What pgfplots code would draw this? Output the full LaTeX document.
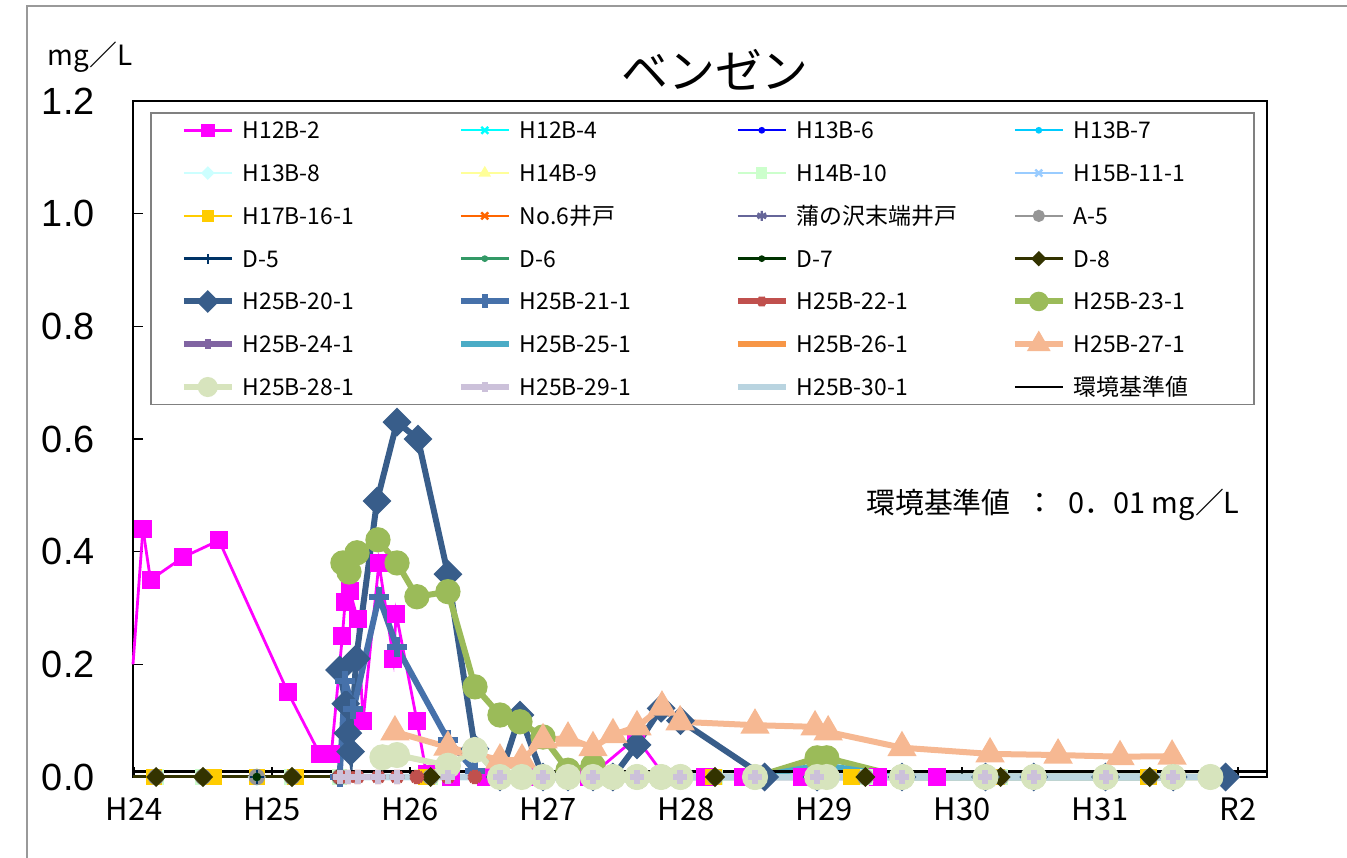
\documentclass[border=0pt]{standalone}
\usepackage{pgfplots}
\pgfplotsset{compat=1.18}
\usepackage{fontspec}
\setmainfont{Noto Sans CJK JP}
\newfontfamily\arialf{Liberation Sans}

\definecolor{cH12Btwo}{HTML}{FF00FF}
\definecolor{cH12Bfour}{HTML}{00FFFF}
\definecolor{cH13Bsix}{HTML}{0000FF}
\definecolor{cH13Bseven}{HTML}{00CCFF}
\definecolor{cH13Beight}{HTML}{CCFFFF}
\definecolor{cH14Bnine}{HTML}{FFFF99}
\definecolor{cH14Bten}{HTML}{CCFFCC}
\definecolor{cH15B}{HTML}{99CCFF}
\definecolor{cH17B}{HTML}{FFCC00}
\definecolor{cNosix}{HTML}{FF6600}
\definecolor{cKaba}{HTML}{666699}
\definecolor{cAfive}{HTML}{969696}
\definecolor{cDfive}{HTML}{003366}
\definecolor{cDsix}{HTML}{339966}
\definecolor{cDseven}{HTML}{003300}
\definecolor{cDeight}{HTML}{333300}
\definecolor{cBtwenty}{HTML}{385D8A}
\definecolor{cBtwentyone}{HTML}{4671AA}
\definecolor{cBtwentytwo}{HTML}{C0504D}
\definecolor{cBtwentythree}{HTML}{9BBB59}
\definecolor{cBtwentyfour}{HTML}{8064A2}
\definecolor{cBtwentyfive}{HTML}{4BACC6}
\definecolor{cBtwentysix}{HTML}{F79646}
\definecolor{cBtwentyseven}{HTML}{F6B892}
\definecolor{cBtwentyeight}{HTML}{D7E4BD}
\definecolor{cBtwentynine}{HTML}{CCC1DA}
\definecolor{cBthirty}{HTML}{B9D4E0}

% fixed-width legend cells
\newcommand\lgd[2][100bp]{\makebox[#1][l]{\rule[-4bp]{0pt}{14bp}#2}}

\begin{document}
\begin{tikzpicture}
\useasboundingbox (-66.5bp,-40.5bp) rectangle (607bp,388.5bp);
\draw[color=gray!80, line width=1bp] (-53bp,-40.5bp) -- (-53bp,385.5bp) -- (607bp,385.5bp);
\begin{axis}[
  at={(0,0)}, anchor=south west,
  scale only axis, width=567bp, height=338bp,
  xmin=-0.007, xmax=8.21, ymin=0, ymax=1.2,
  clip=false,
  axis line style={line width=1.4bp},
  tick align=inside, tick pos=left,
  major tick length=5bp,
  tick style={black, line width=0.6bp},
  xtick={0,1,2,3,4,5,6,7,8},
  xticklabels={H24,H25,H26,H27,H28,H29,H30,H31,R2},
  ytick={0,0.2,0.4,0.6,0.8,1.0,1.2},
  yticklabel style={/pgf/number format/.cd, fixed, fixed zerofill, precision=1, assume math mode=true, /tikz/.cd,
    font=\arialf\fontsize{19}{19}\selectfont, anchor=east, inner sep=0pt, xshift=-19bp},
  xticklabel style={font=\fontsize{15.5}{15.5}\selectfont, anchor=north, inner sep=0pt, yshift=-10bp},
  legend columns=4,
  legend cell align=left,
  legend style={at={(0.01499,0.98373)}, anchor=north west, draw=gray, line width=0.8bp,
    inner xsep=15bp, inner ysep=3bp, row sep=9.9bp,
    font=\fontsize{11.5}{11.5}\selectfont, nodes={inner sep=0pt},
    /tikz/every odd column/.append style={column sep=4bp},
    /tikz/every even column/.append style={column sep=7.5bp}},
  legend image code/.code={\draw[mark repeat=2,mark phase=2,#1,/tikz/every mark/.append style={scale=0.7}]
    plot coordinates {(0bp,0bp)(12bp,0bp)(24bp,0bp)};},
]
% H12B-2 (line entering from the left edge)
\addplot[forget plot, cH12Btwo, line width=1.4bp] coordinates {(-0.007,0.20)(0.065,0.44)};
\addplot[cH12Btwo, line width=1.4bp, mark=square*, mark size=3.8bp] coordinates {
  (0.065,0.44)(0.12,0.35)(0.355,0.39)(0.616,0.42)(1.116,0.15)(1.348,0.04)(1.43,0.04)
  (1.51,0.25)(1.53,0.31)(1.565,0.33)(1.62,0.28)(1.66,0.10)(1.775,0.38)(1.88,0.21)(1.90,0.29)
  (2.05,0.10)(2.12,0.005)(2.3,0)(2.55,0)(2.9,0)(3.3,0)(3.64,0.07)(3.85,0)(4.14,0)(4.41,0)
  (4.84,0)(5.39,0)(5.82,0)};
\addlegendentry{\lgd{H12B-2}}
\addplot[cH12Bfour, line width=1.2bp, mark=x, mark size=3.5bp] coordinates {
  (0.16,0)(0.5,0)(0.89,0)(1.145,0)(1.49,0)(2.15,0)(4.21,0)(5.3,0)(6.28,0)(7.36,0)};
\addlegendentry{\lgd{H12B-4}}
\addplot[cH13Bsix, line width=1.2bp, mark=*, mark size=1.5bp] coordinates {
  (0.16,0)(0.5,0)(0.89,0)(1.145,0)(1.49,0)(2.15,0)(4.21,0)(5.3,0)(6.28,0)(7.36,0)};
\addlegendentry{\lgd{H13B-6}}
\addplot[cH13Bseven, line width=1.2bp, mark=*, mark size=1.5bp] coordinates {
  (0.16,0)(0.5,0)(0.89,0)(1.145,0)(1.49,0)(2.15,0)(4.21,0)(5.3,0)(6.28,0)(7.36,0)};
\addlegendentry{\lgd[75bp]{H13B-7}}
\addplot[cH13Beight, line width=1.2bp, mark=square*, mark size=2.6bp, mark options={rotate=45}] coordinates {
  (0.16,0)(0.5,0)(0.89,0)(1.145,0)(1.49,0)(2.15,0)(4.21,0)(5.3,0)(6.28,0)(7.36,0)};
\addlegendentry{\lgd{H13B-8}}
\addplot[cH14Bnine, line width=1.2bp, mark=triangle*, mark size=3.5bp] coordinates {
  (0.16,0)(0.5,0)(0.89,0)(1.145,0)(1.49,0)(2.15,0)(4.21,0)(5.3,0)(6.28,0)(7.36,0)};
\addlegendentry{\lgd{H14B-9}}
\addplot[cH14Bten, line width=1.2bp, mark=square*, mark size=3.2bp] coordinates {
  (0.16,0)(0.5,0)(0.89,0)(1.145,0)(1.49,0)(2.15,0)(4.21,0)(5.3,0)(6.28,0)(7.36,0)};
\addlegendentry{\lgd{H14B-10}}
\addplot[cH15B, line width=1.2bp, mark=x, mark size=3.5bp] coordinates {
  (0.16,0)(0.5,0)(0.89,0)(1.145,0)(1.49,0)(2.15,0)(4.21,0)(5.3,0)(6.28,0)(7.36,0)};
\addlegendentry{\lgd[75bp]{H15B-11-1}}
\addplot[cH17B, line width=1.2bp, mark=square*, mark size=3.5bp] coordinates {
  (0.145,0)(0.58,0)(0.89,0)(1.17,0)(2.12,0)(4.2,0)(5.2,0)(6.25,0)(7.35,0)};
\addlegendentry{\lgd{H17B-16-1}}
\addplot[cNosix, line width=1.2bp, mark=x, mark size=3.5bp] coordinates {
  (0.16,0)(0.5,0)(0.89,0)(1.145,0)(1.49,0)(2.15,0)(4.21,0)(5.3,0)(6.28,0)(7.36,0)};
\addlegendentry{\lgd{No.6井戸}}
\addplot[cKaba, line width=1.2bp, mark=asterisk, mark size=3.5bp] coordinates {
  (0.16,0)(0.5,0)(0.89,0)(1.145,0)(1.49,0)(2.15,0)(4.21,0)(5.3,0)(6.28,0)(7.36,0)};
\addlegendentry{\lgd{蒲の沢末端井戸}}
\addplot[cAfive, line width=1.2bp, mark=*, mark size=3.5bp] coordinates {
  (0.16,0)(0.5,0)(0.89,0)(1.145,0)(1.49,0)(2.15,0)(4.21,0)(5.3,0)(6.28,0)(7.36,0)};
\addlegendentry{\lgd[75bp]{A-5}}
\addplot[cDfive, line width=1.2bp, mark=+, mark size=3.5bp] coordinates {
  (0.16,0)(0.5,0)(0.89,0)(1.145,0)(1.49,0)(2.15,0)(4.21,0)(5.3,0)(6.28,0)(7.36,0)};
\addlegendentry{\lgd{D-5}}
\addplot[cDsix, line width=1.2bp, mark=*, mark size=1.5bp] coordinates {
  (0.16,0)(0.5,0)(0.89,0)(1.145,0)(1.49,0)(2.15,0)(4.21,0)(5.3,0)(6.28,0)(7.36,0)};
\addlegendentry{\lgd{D-6}}
\addplot[cDseven, line width=1.2bp, mark=*, mark size=1.5bp] coordinates {
  (0.16,0)(0.5,0)(0.89,0)(1.145,0)(1.49,0)(2.15,0)(4.21,0)(5.3,0)(6.28,0)(7.36,0)};
\addlegendentry{\lgd{D-7}}
\addplot[forget plot, cDeight, line width=1.5bp] coordinates {(-0.007,0)(0.16,0)};
\addplot[cDeight, line width=1.5bp, mark=square*, mark size=2.8bp, mark options={rotate=45}] coordinates {
  (0.16,0)(0.5,0)(1.145,0)(1.49,0)(2.15,0)(4.21,0)(5.3,0)(6.28,0)(7.36,0)};
\addlegendentry{\lgd[75bp]{D-8}}
% H25B wells
\addplot[cBtwenty, line width=3bp, mark=square*, mark size=3.6bp, mark options={rotate=45}] coordinates {
  (1.49,0.19)(1.535,0.13)(1.55,0.078)(1.57,0.045)(1.61,0.21)(1.761,0.49)(1.906,0.63)(2.058,0.60)
  (2.275,0.36)(2.471,0.05)(2.652,0)(2.797,0.11)(2.964,0)(3.145,0)(3.326,0)(3.47,0)(3.645,0.057)
  (3.82,0.122)(3.96,0.10)(4.57,0)(4.95,0)(5.565,0)(6.17,0)(6.52,0)(7.04,0)(7.53,0)(7.91,0)};
\addlegendentry{\lgd{H25B-20-1}}
\addplot[cBtwentyone, line width=3bp, mark=+, mark size=5bp] coordinates {
  (1.49,0)(1.53,0.17)(1.59,0.12)(1.775,0.32)(1.906,0.23)(2.275,0.066)(2.471,0.01)(2.652,0)
  (2.964,0)(3.326,0)(3.645,0)(3.96,0)(4.5,0)(5.02,0)(5.565,0)(6.17,0)(7.04,0)(7.53,0)};
\addlegendentry{\lgd{H25B-21-1}}
\addplot[cBtwentytwo, line width=3bp, mark=asterisk, mark size=3.5bp] coordinates {
  (1.49,0)(1.55,0)(1.62,0)(1.77,0)(1.906,0)(2.05,0)(2.275,0)(2.471,0)(2.652,0)(2.81,0)(2.964,0)
  (3.145,0)(3.326,0)(3.47,0)(3.645,0)(3.82,0)(3.96,0)(4.5,0)(4.95,0)(5.02,0)(5.565,0)(6.17,0)
  (6.52,0)(7.04,0)(7.53,0)(7.8,0)};
\addlegendentry{\lgd{H25B-22-1}}
\addplot[cBtwentythree, line width=3bp, mark=*, mark size=4.8bp] coordinates {
  (1.514,0.38)(1.558,0.364)(1.616,0.398)(1.768,0.421)(1.906,0.38)(2.05,0.32)(2.275,0.329)
  (2.471,0.16)(2.652,0.11)(2.797,0.098)(2.964,0.071)(3.145,0.012)(3.326,0.02)(3.47,0)(3.645,0)
  (3.82,0)(3.96,0)(4.5,0)(4.95,0.034)(5.02,0.034)(5.565,0)(6.17,0)(6.52,0)(7.04,0)(7.53,0)(7.8,0)};
\addlegendentry{\lgd[75bp]{H25B-23-1}}
\addplot[cBtwentyfour, line width=3bp, mark=+, mark size=3.5bp] coordinates {
  (1.49,0)(1.55,0)(1.62,0)(1.77,0)(1.906,0)(2.275,0)(2.652,0)(3.145,0)(3.645,0)(4.5,0)(5.02,0)
  (5.565,0)(6.17,0)(7.04,0)(7.53,0)};
\addlegendentry{\lgd{H25B-24-1}}
\addplot[cBtwentyfive, line width=3bp] coordinates {
  (1.49,0)(1.906,0)(2.275,0)(2.652,0)(3.145,0)(3.645,0)(4.5,0)(4.95,0.02)(5.02,0.02)(5.565,0)
  (6.17,0)(7.04,0)(7.53,0)};
\addlegendentry{\lgd{H25B-25-1}}
\addplot[cBtwentysix, line width=3bp] coordinates {
  (1.48,0)(1.55,0)(1.62,0)(1.70,0)(1.82,0)};
\addlegendentry{\lgd{H25B-26-1}}
\addplot[cBtwentyseven, line width=3bp, mark=triangle*, mark size=5.5bp] coordinates {
  (1.891,0.08)(2.275,0.053)(2.652,0.03)(2.812,0.03)(2.964,0.066)(3.145,0.069)(3.326,0.052)
  (3.471,0.075)(3.645,0.089)(3.826,0.124)(3.957,0.098)(4.5,0.092)(4.935,0.089)(5.03,0.08)
  (5.565,0.052)(6.203,0.041)(6.696,0.039)(7.145,0.036)(7.522,0.037)};
\addlegendentry{\lgd[75bp]{H25B-27-1}}
\addplot[cBtwentyeight, line width=3bp, mark=*, mark size=5bp] coordinates {
  (1.80,0.035)(1.906,0.039)(2.275,0.02)(2.471,0.048)(2.652,0)(2.81,0)(2.964,0)(3.145,0)(3.326,0)
  (3.47,0)(3.645,0)(3.82,0)(3.96,0)(4.5,0)(4.95,0)(5.02,0)(5.565,0)(6.17,0)(6.52,0)(7.04,0)
  (7.53,0)(7.8,0)};
\addlegendentry{\lgd{H25B-28-1}}
\addplot[cBtwentynine, line width=3bp, mark=+, mark size=3.5bp] coordinates {
  (1.49,0)(1.55,0)(1.62,0)(1.77,0)(1.906,0)(2.275,0)(2.652,0)(2.964,0)(3.326,0)(3.645,0)(3.96,0)
  (4.5,0)(4.95,0)(5.565,0)(6.17,0)(6.52,0)(7.04,0)(7.53,0)};
\addlegendentry{\lgd{H25B-29-1}}
\addplot[cBthirty, line width=3bp] coordinates {
  (1.82,0)(1.906,0)(2.275,0)(2.652,0)(3.145,0)(3.645,0)(4.5,0)(5.02,0)(5.565,0)(6.17,0)(7.04,0)
  (7.53,0)(7.8,0)};
\addlegendentry{\lgd{H25B-30-1}}
\addplot[black, line width=1.3bp] coordinates {(-0.007,0.01)(8.21,0.01)};
\addlegendentry{\lgd[75bp]{環境基準値}}
\end{axis}
\node[font=\fontsize{23.5}{23.5}\selectfont] at (291bp,353.5bp) {ベンゼン};
\node[font=\fontsize{14}{14}\selectfont] at (-21.5bp,360bp) {mg／L};
\node[anchor=east, inner sep=0pt, font=\fontsize{14.5}{14.5}\selectfont] at (553.5bp,136bp) {環境基準値\hspace{0.5em}：\hspace{0.5em}0．01 mg／L};
\end{tikzpicture}
\end{document}
